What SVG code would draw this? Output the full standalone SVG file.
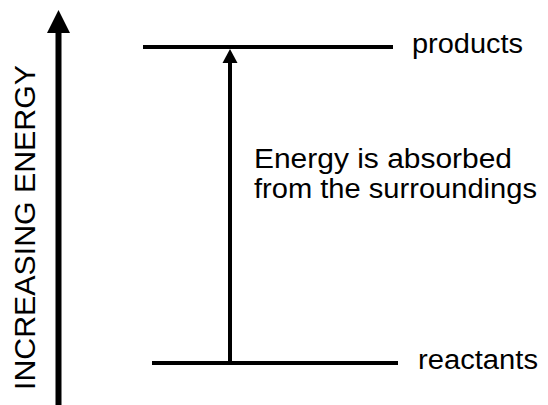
<svg xmlns="http://www.w3.org/2000/svg" width="548" height="405" viewBox="0 0 548 405">
<style>
.lvl{stroke:#000;stroke-width:4;fill:none}
.t{font-family:"Liberation Sans",Arial,sans-serif;fill:#000}
</style>
<rect width="548" height="405" fill="#fff"/>
<g id="axis">
<line x1="58.5" y1="30" x2="58.5" y2="405" stroke="#000" stroke-width="6"/>
<polygon points="58.5,10 47,33 70,33" fill="#000"/>
<text class="t" font-size="30" transform="translate(35,390) rotate(-90)" textLength="325" lengthAdjust="spacingAndGlyphs">INCREASING ENERGY</text>
</g>
<g id="products">
<line class="lvl" x1="143" y1="47" x2="393" y2="47"/>
<text class="t" x="412" y="53" font-size="27" textLength="111" lengthAdjust="spacingAndGlyphs">products</text>
</g>
<g id="reactants">
<line class="lvl" x1="152" y1="363" x2="398" y2="363"/>
<text class="t" x="418" y="369" font-size="27" textLength="120" lengthAdjust="spacingAndGlyphs">reactants</text>
</g>
<g id="connectors">
<line x1="230" y1="60" x2="230" y2="363" stroke="#000" stroke-width="4"/>
<polygon points="230,49 222.5,63 237.5,63" fill="#000"/>
</g>
<g id="label">
<text class="t" x="254" y="168" font-size="27" textLength="258" lengthAdjust="spacingAndGlyphs">Energy is absorbed</text>
<text class="t" x="254" y="198" font-size="27" textLength="283" lengthAdjust="spacingAndGlyphs">from the surroundings</text>
</g>
</svg>
